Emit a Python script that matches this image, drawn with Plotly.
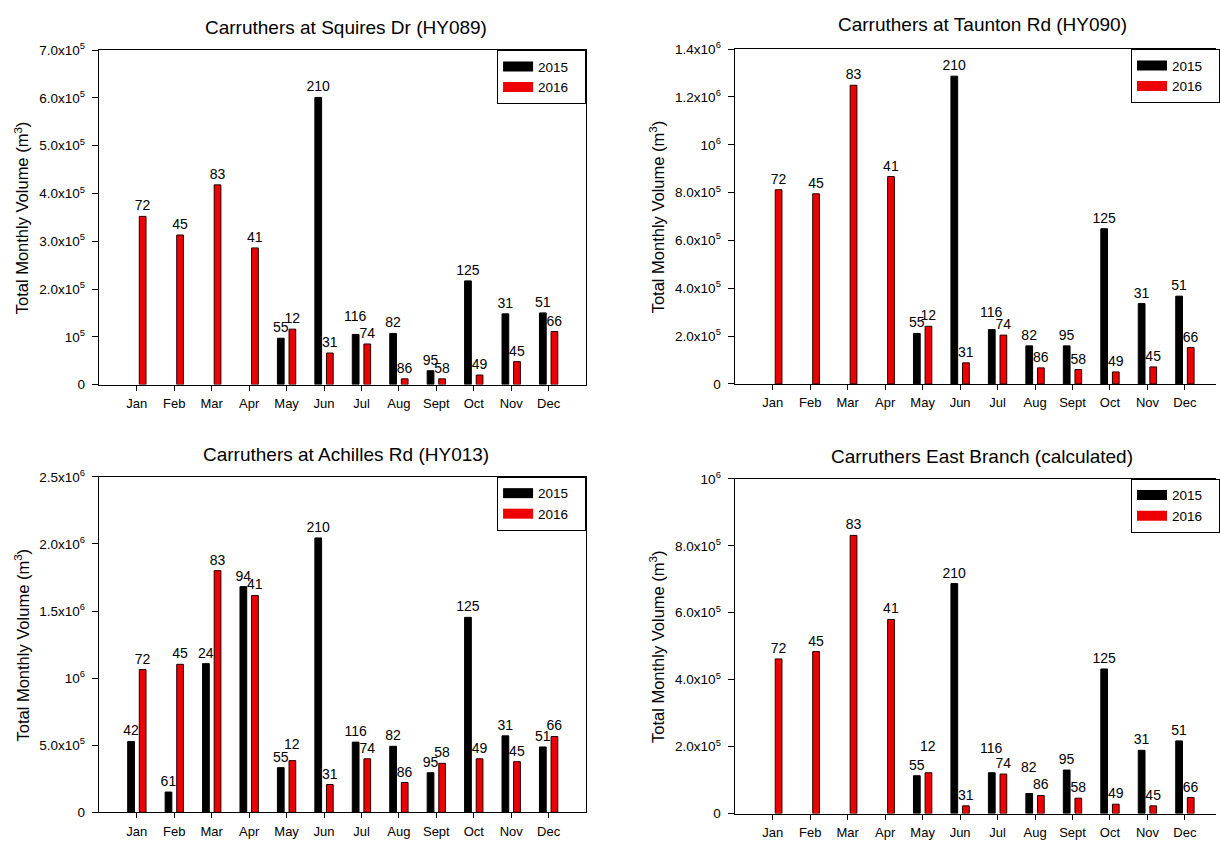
import plotly.graph_objects as go

months = ["Jan", "Feb", "Mar", "Apr", "May", "Jun", "Jul", "Aug", "Sept", "Oct", "Nov", "Dec"]

labels_2015 = ["42", "61", "24", "94", "55", "210", "116", "82", "95", "125", "31", "51"]
labels_2016 = ["72", "45", "83", "41", "12", "31", "74", "86", "58", "49", "45", "66"]

hy089_2015 = [None, None, None, None, 0.97e5, 6.01e5, 1.05e5, 1.07e5, 0.29e5, 2.17e5, 1.48e5, 1.50e5]
hy089_2016 = [3.52e5, 3.13e5, 4.18e5, 2.86e5, 1.16e5, 0.66e5, 0.85e5, 0.12e5, 0.12e5, 0.20e5, 0.48e5, 1.11e5]

hy090_2015 = [None, None, None, None, 2.11e5, 12.87e5, 2.27e5, 1.59e5, 1.59e5, 6.49e5, 3.36e5, 3.67e5]
hy090_2016 = [8.12e5, 7.95e5, 12.49e5, 8.67e5, 2.41e5, 0.88e5, 2.04e5, 0.67e5, 0.60e5, 0.50e5, 0.71e5, 1.52e5]

hy013_2015 = [5.28e5, 1.51e5, 11.08e5, 16.82e5, 3.33e5, 20.45e5, 5.23e5, 4.92e5, 2.95e5, 14.53e5, 5.70e5, 4.87e5]
hy013_2016 = [10.64e5, 11.03e5, 18.01e5, 16.16e5, 3.85e5, 2.07e5, 3.99e5, 2.22e5, 3.65e5, 3.99e5, 3.77e5, 5.65e5]

east_2015 = [None, None, None, None, 1.13e5, 6.87e5, 1.22e5, 0.60e5, 1.30e5, 4.32e5, 1.89e5, 2.17e5]
east_2016 = [4.62e5, 4.84e5, 8.31e5, 5.80e5, 1.22e5, 0.23e5, 1.18e5, 0.54e5, 0.46e5, 0.28e5, 0.23e5, 0.48e5]

titles = ["Carruthers at Squires Dr (HY089)", "Carruthers at Taunton Rd (HY090)",
          "Carruthers at Achilles Rd (HY013)", "Carruthers East Branch (calculated)"]

ticks_hy089 = [0, 1e5, 2e5, 3e5, 4e5, 5e5, 6e5, 7e5]
ticktext_hy089 = ["0", "10<sup>5</sup>", "2.0x10<sup>5</sup>", "3.0x10<sup>5</sup>", "4.0x10<sup>5</sup>",
                  "5.0x10<sup>5</sup>", "6.0x10<sup>5</sup>", "7.0x10<sup>5</sup>"]
ticks_hy090 = [0, 2e5, 4e5, 6e5, 8e5, 1e6, 1.2e6, 1.4e6]
ticktext_hy090 = ["0", "2.0x10<sup>5</sup>", "4.0x10<sup>5</sup>", "6.0x10<sup>5</sup>", "8.0x10<sup>5</sup>",
                  "10<sup>6</sup>", "1.2x10<sup>6</sup>", "1.4x10<sup>6</sup>"]
ticks_hy013 = [0, 5e5, 1e6, 1.5e6, 2e6, 2.5e6]
ticktext_hy013 = ["0", "5.0x10<sup>5</sup>", "10<sup>6</sup>", "1.5x10<sup>6</sup>", "2.0x10<sup>6</sup>",
                  "2.5x10<sup>6</sup>"]
ticks_east = [0, 2e5, 4e5, 6e5, 8e5, 1e6]
ticktext_east = ["0", "2.0x10<sup>5</sup>", "4.0x10<sup>5</sup>", "6.0x10<sup>5</sup>", "8.0x10<sup>5</sup>",
                 "10<sup>6</sup>"]

W, H = 1220, 848
FONT = "Arial, Liberation Sans, sans-serif"
RED = "#ee0000"
BAR_HALF_OFFSET = 5.8  # px between category centre and each bar centre (style)
LEGEND_PAD = "\u00a0\u00a0\u00a0"  # widens the legend box like the reference

panels = [
    dict(s15=hy089_2015, s16=hy089_2016, tv=ticks_hy089, tt=ticktext_hy089, ymax=7e5,
         px=(99, 588), py=(41, 382.7), xr=[-1.02, 12.0], mirror=True,
         title_xy=(347, 18), ytitle_x=22, leg=dict(x=588, anchor="right"),
         raised={("2015", 6): 5}),
    dict(s15=hy090_2015, s16=hy090_2016, tv=ticks_hy090, tt=ticktext_hy090, ymax=1.4e6,
         px=(737, 1220), py=(40, 382), xr=[-1.02, 11.83], mirror=False,
         title_xy=(986, 15), ytitle_x=659, leg=dict(x=1135, anchor="left"),
         raised={("2015", 6): 5}),
    dict(s15=hy013_2015, s16=hy013_2016, tv=ticks_hy013, tt=ticktext_hy013, ymax=2.5e6,
         px=(99, 588), py=(477, 819.7), xr=[-1.02, 12.0], mirror=True,
         title_xy=(347, 454), ytitle_x=22, leg=dict(x=588, anchor="right"),
         raised={("2016", 4): 4}),
    dict(s15=east_2015, s16=east_2016, tv=ticks_east, tt=ticktext_east, ymax=1e6,
         px=(737, 1220), py=(479, 821), xr=[-1.02, 11.83], mirror=False,
         title_xy=(985, 456), ytitle_x=659, leg=dict(x=1135, anchor="left"),
         raised={("2016", 4): 14, ("2015", 6): 12, ("2015", 7): 13}),
]

fig = go.Figure()
layout = dict(width=W, height=H, margin=dict(l=0, r=0, t=0, b=0, pad=0),
              paper_bgcolor="white", plot_bgcolor="white",
              barmode="group", bargap=0.38, bargroupgap=0.42,
              font=dict(family=FONT, size=12, color="black"), showlegend=True)
annotations = []

for i, p in enumerate(panels):
    n = "" if i == 0 else str(i + 1)
    xa, ya = "x" + n, "y" + n
    lg = "legend" + n
    series = [("2015", p["s15"], labels_2015, "black", "black", -BAR_HALF_OFFSET),
              ("2016", p["s16"], labels_2016, RED, "#220000", BAR_HALF_OFFSET)]
    for name, vals, labs, col, lcol, xoff in series:
        texts = []
        for j, lab in enumerate(labs):
            if (name, j) in p["raised"] and vals[j] is not None:
                texts.append("")
                annotations.append(dict(text=lab, x=months[j], y=vals[j], xref=xa, yref=ya,
                                        xanchor="center", yanchor="bottom", xshift=xoff,
                                        yshift=3 + p["raised"][(name, j)], showarrow=False,
                                        font=dict(size=14, family=FONT, color="black")))
            else:
                texts.append(lab if vals[j] is not None else "")
        fig.add_trace(go.Bar(x=months, y=vals, text=texts, textposition="outside",
                             constraintext="none", cliponaxis=False,
                             textfont=dict(size=14, color="black", family=FONT),
                             marker=dict(color=col, line=dict(color=lcol, width=1)),
                             xaxis=xa, yaxis=ya, showlegend=False, name=name))
    fig.add_trace(go.Scatter(x=[None], y=[None], mode="lines", name="2015" + LEGEND_PAD,
                             line=dict(color="black", width=10), xaxis=xa, yaxis=ya, legend=lg))
    fig.add_trace(go.Scatter(x=[None], y=[None], mode="lines", name="2016" + LEGEND_PAD,
                             line=dict(color=RED, width=10), xaxis=xa, yaxis=ya, legend=lg))

    x0, x1 = p["px"]
    y0, y1 = p["py"]
    layout["xaxis" + n] = dict(domain=[x0 / W, x1 / W], anchor=ya, type="category",
                               range=p["xr"], showline=True, linecolor="black", linewidth=1,
                               mirror=True, ticks="outside", ticklen=5, tickcolor="black",
                               showgrid=False, zeroline=False, ticklabelstandoff=2,
                               tickfont=dict(size=13, family=FONT, color="black"))
    layout["yaxis" + n] = dict(domain=[1 - y1 / H, 1 - y0 / H], anchor=xa, range=[0, p["ymax"]],
                               tickvals=p["tv"], ticktext=p["tt"], showline=True,
                               linecolor="black", linewidth=1, mirror=p["mirror"],
                               ticks="outside", ticklen=6, tickcolor="black",
                               showgrid=False, zeroline=False, ticklabelstandoff=4,
                               tickfont=dict(size=13.5, family=FONT, color="black"))
    layout[lg] = dict(x=p["leg"]["x"] / W, xanchor=p["leg"]["anchor"], y=1 - y0 / H, yanchor="top",
                      bordercolor="black", borderwidth=1, bgcolor="white",
                      font=dict(size=13.5, family=FONT, color="black"), tracegroupgap=0)
    tx, ty = p["title_xy"]
    annotations.append(dict(text=titles[i], x=tx / W, y=1 - ty / H, xref="paper", yref="paper",
                            xanchor="center", yanchor="middle", showarrow=False,
                            font=dict(size=19, family=FONT, color="black")))
    annotations.append(dict(text="Total Monthly Volume (m<sup>3</sup>)", x=p["ytitle_x"] / W,
                            y=1 - (y0 + y1) / 2 / H, xref="paper", yref="paper",
                            xanchor="center", yanchor="middle", textangle=-90, showarrow=False,
                            font=dict(size=16.5, family=FONT, color="black")))

layout["annotations"] = annotations
fig.update_layout(**layout)
fig.write_html("out.html", config={"displayModeBar": False},
               post_script="document.body.style.margin='0px';document.body.style.overflow='hidden';")
